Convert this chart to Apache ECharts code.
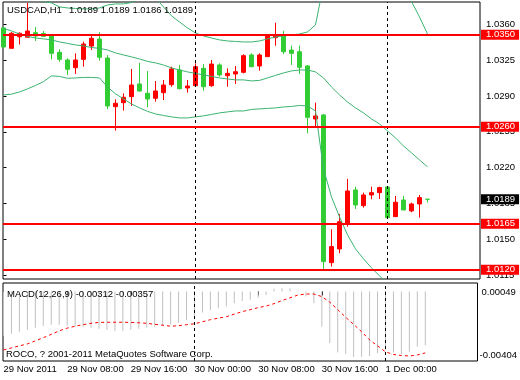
<!DOCTYPE html>
<html><head><meta charset="utf-8">
<script src="https://cdn.jsdelivr.net/npm/echarts@6/dist/echarts.min.js"></script>
<style>html,body{margin:0;padding:0;background:#fff}#c{width:520px;height:380px}</style>
</head><body><div id="c"></div>
<script>
const symbolTitle = 'USDCAD,H1';
const copyrightText = 'ROCO, ? 2001-2011 MetaQuotes Software Corp.';
const openP = [1.03566,1.03367,1.03480,1.03475,1.03520,1.03512,1.03494,1.03328,1.03253,1.03177,
1.03259,1.03389,1.03458,1.03272,1.02796,1.02835,1.02894,1.03018,1.02927,1.02878,
1.02933,1.03011,1.03155,1.02979,1.03001,1.03171,1.03001,1.03204,1.03099,1.03116,
1.03132,1.03302,1.03194,1.03285,1.03471,1.03497,1.03350,1.03334,1.03194,1.02676,
1.02715,1.01270,1.01404,1.01646,1.01981,1.01828,1.01932,1.01955,1.02010,1.01720,
1.01883,1.01776,1.01844,1.01890];
const closeP = [1.03380,1.03514,1.03514,1.03536,1.03487,1.03484,1.03318,1.03259,1.03162,1.03253,
1.03409,1.03465,1.03279,1.02803,1.02829,1.02888,1.03008,1.02949,1.02871,1.02949,
1.03008,1.03165,1.02972,1.02998,1.03187,1.02991,1.03213,1.03106,1.03122,1.03138,
1.03295,1.03187,1.03302,1.03497,1.03497,1.03334,1.03318,1.03181,1.02692,1.02705,
1.01280,1.01427,1.01671,1.01971,1.01834,1.01932,1.01955,1.02004,1.01710,1.01861,
1.01785,1.01844,1.01906,1.01890];
const lowP = [1.03370,1.03365,1.03404,1.03472,1.03438,1.03478,1.03259,1.03236,1.03106,1.03116,
1.03187,1.03350,1.03246,1.02773,1.02561,1.02757,1.02803,1.02943,1.02790,1.02845,
1.02861,1.02991,1.02965,1.02933,1.02991,1.02952,1.02991,1.03089,1.02991,1.03018,
1.03122,1.03181,1.03148,1.03285,1.03392,1.03311,1.03204,1.03116,1.02536,1.02600,
1.01206,1.01231,1.01362,1.01622,1.01795,1.01808,1.01890,1.01893,1.01710,1.01717,
1.01785,1.01763,1.01710,1.01860];
const highP = [1.03575,1.03526,1.03523,1.03810,1.03575,1.03536,1.03507,1.03357,1.03269,1.03318,
1.03432,1.03490,1.03523,1.03301,1.02868,1.02927,1.03165,1.03226,1.03145,1.03047,
1.03057,1.03187,1.03204,1.03057,1.03220,1.03213,1.03253,1.03220,1.03171,1.03194,
1.03308,1.03318,1.03318,1.03502,1.03617,1.03539,1.03392,1.03392,1.03204,1.02835,
1.02724,1.01597,1.01746,1.02089,1.02013,1.01955,1.02013,1.02013,1.02013,1.01922,
1.01922,1.01857,1.01932,1.01890];
const bbUpper = [1.03938,1.03918,1.03889,1.03860,1.03840,1.03825,1.03811,1.03772,1.03762,1.03757,
1.03752,1.03752,1.03762,1.03791,1.03801,1.03801,1.03815,1.03850,1.03869,1.03860,
1.03772,1.03684,1.03625,1.03566,1.03517,1.03488,1.03468,1.03449,1.03439,1.03434,
1.03429,1.03429,1.03439,1.03459,1.03478,1.03488,1.03498,1.03507,1.03527,1.03596,
1.03987,1.04231,1.04427,1.04525,1.04574,1.04544,1.04476,1.04378,1.04280,1.04153,
1.03987,1.03825,1.03674,1.03507];
const bbMiddle = [1.03561,1.03537,1.03507,1.03483,1.03468,1.03459,1.03449,1.03429,1.03415,1.03400,
1.03390,1.03375,1.03366,1.03351,1.03322,1.03302,1.03283,1.03263,1.03239,1.03224,
1.03204,1.03175,1.03155,1.03136,1.03121,1.03107,1.03092,1.03077,1.03067,1.03058,
1.03058,1.03048,1.03053,1.03077,1.03102,1.03126,1.03146,1.03155,1.03155,1.03136,
1.03077,1.02989,1.02911,1.02842,1.02784,1.02735,1.02676,1.02627,1.02559,1.02490,
1.02412,1.02344,1.02275,1.02207];
const bbLower = [1.02911,1.02918,1.02940,1.02970,1.03004,1.03041,1.03097,1.03092,1.03074,1.03077,
1.03082,1.03082,1.03077,1.02989,1.02921,1.02872,1.02823,1.02784,1.02750,1.02725,
1.02710,1.02696,1.02686,1.02686,1.02696,1.02706,1.02720,1.02735,1.02745,1.02754,
1.02754,1.02769,1.02774,1.02779,1.02784,1.02793,1.02798,1.02808,1.02803,1.02754,
1.02187,1.01913,1.01718,1.01542,1.01405,1.01307,1.01219,1.01141,1.01063,1.00994,
1.00935,1.00886,1.00847,1.00818];
const macdMain = [-0.00258,-0.00246,-0.00234,-0.00223,-0.00211,-0.00199,-0.00193,-0.00193,-0.00199,-0.00205,
-0.00205,-0.00211,-0.00217,-0.00223,-0.00229,-0.00229,-0.00223,-0.00217,-0.00211,-0.00205,
-0.00199,-0.00193,-0.00182,-0.00164,-0.00141,-0.00123,-0.00108,-0.00098,-0.00088,-0.00069,
-0.00055,-0.00049,-0.00036,-0.00020,0.00015,0.00019,0.00019,0.00004,-0.00030,-0.00069,
-0.00205,-0.00299,-0.00355,-0.00363,-0.00381,-0.00379,-0.00375,-0.00357,-0.00340,-0.00355,
-0.00363,-0.00350,-0.00320,-0.00312];
const macdSignal = [-0.00340,-0.00328,-0.00316,-0.00305,-0.00287,-0.00269,-0.00249,-0.00229,-0.00213,-0.00202,
-0.00193,-0.00185,-0.00180,-0.00179,-0.00179,-0.00179,-0.00180,-0.00182,-0.00185,-0.00191,
-0.00196,-0.00202,-0.00199,-0.00193,-0.00188,-0.00176,-0.00164,-0.00155,-0.00147,-0.00132,
-0.00117,-0.00106,-0.00094,-0.00085,-0.00071,-0.00053,-0.00037,-0.00021,-0.00015,-0.00015,
-0.00030,-0.00062,-0.00106,-0.00150,-0.00191,-0.00234,-0.00281,-0.00316,-0.00351,-0.00366,
-0.00372,-0.00375,-0.00369,-0.00357];
const levelLines = [1.0350, 1.0260, 1.0165, 1.0120];
const bidPrice = 1.0189;
const priceTicks = [1.0360, 1.0325, 1.0290, 1.0255, 1.0220, 1.0185, 1.0150, 1.0115];
const timeTickIdx = [0, 8, 16, 24, 32, 40, 48];
const timeTickLabels = ['29 Nov 2011','29 Nov 08:00','29 Nov 16:00','30 Nov 00:00','30 Nov 08:00','30 Nov 16:00','1 Dec 00:00'];
const daySeparators = [24, 48];
const macdTicks = [0.00049, -0.00404];

const font = 'Liberation Sans';
const fs = 9.5;
const xMin = -0.0625, xMax = 59.5625;
const last = openP.length - 1;
const pairs = arr => arr.map((v, i) => [i, v]);
const candleData = openP.map((o, i) => [i, o, closeP[i], lowP[i], highP[i]]);
const ohlcText = [openP[last], highP[last], lowP[last], closeP[last]].map(v => v.toFixed(4)).join(' ');
const macdText = 'MACD(12,26,9) ' + macdMain[last].toFixed(5) + ' ' + macdSignal[last].toFixed(5);
const txt = {fontSize: fs, fontWeight: 'normal', color: '#000', fontFamily: font};
const sepLine = {
  silent: true, symbol: ['none', 'none'], animation: false,
  label: {show: false},
  lineStyle: {color: '#000', type: [3, 3], width: 1},
  data: daySeparators.map(x => ({xAxis: x}))
};
const lvlLabel = {show: true, position: 'end', distance: 1, formatter: p => Number(p.value).toFixed(4),
  color: '#fff', backgroundColor: '#ff0000', padding: [1, 4, 0, 5], fontSize: fs, lineHeight: 9, fontFamily: font};

const chart = echarts.init(document.getElementById('c'), null, {renderer: 'canvas'});
chart.setOption({
  animation: false,
  backgroundColor: '#fff',
  textStyle: {fontFamily: font},
  title: [
    {text: symbolTitle, left: 7, top: 5, padding: 0, textStyle: txt},
    {text: ohlcText, left: 69, top: 5, padding: 0, textStyle: txt},
    {text: macdText, left: 7, top: 289, padding: 0, textStyle: txt},
    {text: copyrightText, left: 6, top: 349, padding: 0, textStyle: txt}
  ],
  grid: [
    {left: 3, right: 40, top: 2, height: 277, show: true, borderColor: '#000', borderWidth: 1, backgroundColor: 'transparent'},
    {left: 3, right: 40, top: 283, height: 78, show: true, borderColor: '#000', borderWidth: 1, backgroundColor: 'transparent'}
  ],
  xAxis: [
    {type: 'value', gridIndex: 0, min: xMin, max: xMax, show: false},
    {type: 'value', gridIndex: 1, min: xMin, max: xMax,
      axisLine: {show: false}, splitLine: {show: false},
      axisTick: {show: true, customValues: timeTickIdx, length: 4, lineStyle: {color: '#000'}},
      axisLabel: {customValues: timeTickIdx, showMinLabel: true, showMaxLabel: true,
        formatter: v => timeTickLabels[timeTickIdx.indexOf(Math.round(v))] || '',
        align: 'left', margin: 3, fontSize: fs, color: '#000', fontFamily: font}}
  ],
  yAxis: [
    {type: 'value', gridIndex: 0, position: 'right', min: 1.0111, max: 1.0382,
      splitLine: {show: false}, axisLine: {show: false},
      axisTick: {show: true, customValues: priceTicks, length: 3, lineStyle: {color: '#000'}},
      axisLabel: {customValues: priceTicks, showMinLabel: true, showMaxLabel: true,
        formatter: v => v.toFixed(4), margin: 6, fontSize: fs, color: '#000', fontFamily: font}},
    {type: 'value', gridIndex: 1, position: 'right', min: macdTicks[1], max: macdTicks[0],
      splitLine: {show: false}, axisLine: {show: false}, axisTick: {show: false},
      axisLabel: {customValues: [macdTicks[1]], showMinLabel: true, showMaxLabel: true,
        formatter: v => v.toFixed(5), verticalAlign: 'bottom', lineHeight: 12, margin: 2,
        fontSize: fs, color: '#000', fontFamily: font}},
    {type: 'value', gridIndex: 1, position: 'right', min: macdTicks[1], max: macdTicks[0],
      splitLine: {show: false}, axisLine: {show: false}, axisTick: {show: false},
      axisLabel: {customValues: [macdTicks[0]], showMinLabel: true, showMaxLabel: true,
        formatter: v => v.toFixed(5), verticalAlign: 'top', lineHeight: 18, margin: 4,
        fontSize: fs, color: '#000', fontFamily: font}}
  ],
  series: [
    {type: 'line', name: 'BB upper', xAxisIndex: 0, yAxisIndex: 0, data: pairs(bbUpper), symbol: 'none', clip: true,
      lineStyle: {color: '#3cb371', width: 1}, silent: true},
    {type: 'line', name: 'BB middle', xAxisIndex: 0, yAxisIndex: 0, data: pairs(bbMiddle), symbol: 'none', clip: true,
      lineStyle: {color: '#3cb371', width: 1}, silent: true, markLine: sepLine},
    {type: 'line', name: 'BB lower', xAxisIndex: 0, yAxisIndex: 0, data: pairs(bbLower), symbol: 'none', clip: true,
      lineStyle: {color: '#3cb371', width: 1}, silent: true},
    {type: 'candlestick', name: 'USDCAD', xAxisIndex: 0, yAxisIndex: 0, data: candleData,
      encode: {x: 0, y: [1, 2, 3, 4]}, barWidth: 4, clip: true,
      itemStyle: {color: '#ff0000', color0: '#32cd32', borderColor: '#ff0000', borderColor0: '#32cd32', borderWidth: 1}},
    {type: 'line', name: 'Levels', xAxisIndex: 0, yAxisIndex: 0, data: [], symbol: 'none', silent: true, z: 5,
      markLine: {
        silent: true, symbol: ['none', 'none'], animation: false, precision: 4,
        lineStyle: {color: '#ff0000', type: 'solid', width: 2},
        label: lvlLabel,
        data: levelLines.map(v => ({yAxis: v}))
      }},
    {type: 'line', name: 'Bid', xAxisIndex: 0, yAxisIndex: 0, data: [], symbol: 'none', silent: true, z: 6,
      markLine: {
        silent: true, symbol: ['none', 'none'], animation: false, precision: 4,
        lineStyle: {color: 'rgba(0,0,0,0)', type: 'solid', width: 1},
        label: Object.assign({}, lvlLabel, {backgroundColor: '#000'}),
        data: [{yAxis: bidPrice}]
      }},
    {type: 'bar', name: 'MACD', xAxisIndex: 1, yAxisIndex: 1, data: pairs(macdMain), barWidth: 1,
      itemStyle: {color: '#c0c0c0'}, silent: true, markLine: sepLine},
    {type: 'line', name: 'Signal', xAxisIndex: 1, yAxisIndex: 1, data: pairs(macdSignal), symbol: 'none',
      lineStyle: {color: '#ff0000', width: 1, type: [3, 3]}, silent: true}
  ]
});
</script>
</body></html>
